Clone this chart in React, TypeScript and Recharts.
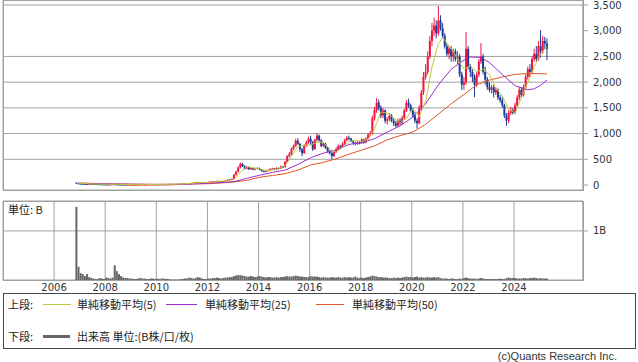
import React from "react";
import { ComposedChart, Bar, Line, XAxis, YAxis, CartesianGrid } from "recharts";

// ---------- categories ----------
const START_YEAR = 2006;
const START_MONTH = 10; // November (0-based)
const yearTicks = [2006, 2008, 2010, 2012, 2014, 2016, 2018, 2020, 2022, 2024];
const priceTicks = [0, 500, 1000, 1500, 2000, 2500, 3000, 3500];
const volumeTicks = [1];

// ---------- monthly OHLC (2006-11 .. 2025-04) ----------
const opens = [
  45, 32,
  28, 25, 22, 20, 18, 20, 22, 20, 18, 16, 15, 14,
  13, 12, 11, 12, 16, 14, 12, 11, 10, 9, 8, 8,
  8, 8, 8, 8, 9, 10, 10, 10, 10, 11, 11, 11,
  11, 12, 12, 13, 13, 14, 14, 15, 16, 17, 18, 20,
  22, 25, 28, 30, 35, 40, 45, 50, 55, 50, 48, 50,
  55, 60, 65, 70, 75, 80, 70, 65, 75, 90, 100, 110,
  120, 200, 260, 340, 410, 370, 320, 340, 310, 330, 300, 320,
  330, 300, 270, 260, 275, 290, 310, 320, 300, 330, 320, 360,
  350, 450, 560, 600, 700, 760, 860, 800, 690, 620, 760, 830,
  900, 830, 700, 880, 960, 870, 760, 800, 720, 650, 620, 560,
  640, 700, 760, 740, 800, 870, 920, 900, 850, 820, 800, 830,
  820, 880, 830, 900, 980, 1000, 1300, 1450, 1600, 1500, 1350, 1450,
  1250, 1280, 1350, 1250, 1200, 1150, 1250, 1200, 1300, 1450, 1600, 1550,
  1450, 1350, 1250, 1200, 1500, 1800, 2100, 2200, 2500, 2800, 3000, 3100,
  2950, 3200, 3050, 2900, 2700, 2550, 2650, 2500, 2600, 2450, 2500, 2150,
  1950, 2000, 2650, 2300, 2200, 2100, 1950, 2150, 2400, 2500, 2200, 2050,
  1900, 1850, 1900, 1800, 1850, 1700, 1650, 1550, 1350, 1250, 1400, 1450,
  1400, 1550, 1700, 1850, 1750, 1900, 2100, 2250, 2200, 2450, 2550, 2450,
  2700, 2600, 2800, 2750,
];
const highs = [
  50, 36,
  31, 27, 24, 22, 23, 25, 23, 21, 19, 17, 16, 15,
  14, 13, 13, 19, 17, 15, 13, 12, 11, 10, 9, 9,
  9, 9, 9, 10, 11, 11, 11, 11, 12, 12, 12, 12,
  13, 13, 14, 14, 15, 15, 16, 17, 18, 19, 21, 24,
  27, 30, 33, 38, 43, 48, 54, 60, 58, 53, 53, 58,
  64, 69, 75, 80, 86, 82, 73, 79, 95, 106, 116, 128,
  215, 280, 365, 440, 430, 385, 360, 350, 345, 340, 335, 345,
  340, 310, 285, 290, 305, 325, 335, 330, 345, 340, 375, 375,
  470, 580, 640, 730, 790, 900, 910, 820, 720, 790, 860, 940,
  960, 860, 900, 1010, 980, 890, 830, 820, 740, 680, 650, 680,
  730, 790, 780, 830, 900, 950, 960, 920, 870, 840, 860, 860,
  910, 900, 930, 1010, 1050, 1350, 1520, 1690, 1660, 1550, 1500, 1470,
  1320, 1400, 1380, 1300, 1250, 1290, 1300, 1350, 1480, 1650, 1680, 1580,
  1500, 1420, 1300, 1550, 1850, 2200, 2350, 2600, 2900, 3150, 3250, 3200,
  3480, 3300, 3150, 2950, 2750, 2700, 2700, 2650, 2650, 2600, 2550, 2200,
  2100, 2970, 2700, 2350, 2250, 2150, 2200, 2450, 2760, 2550, 2300, 2100,
  2000, 1950, 1950, 1900, 1880, 1750, 1700, 1580, 1400, 1450, 1520, 1500,
  1600, 1750, 1900, 1900, 1950, 2150, 2300, 2350, 2500, 2650, 2700, 2800,
  3010, 2900, 2880, 2850,
];
const lows = [
  28, 24,
  22, 20, 18, 16, 17, 19, 18, 16, 14, 13, 12, 11,
  11, 10, 10, 11, 13, 11, 10, 9, 8, 7, 7, 7,
  7, 7, 7, 8, 8, 9, 9, 9, 9, 10, 10, 10,
  10, 11, 11, 12, 12, 13, 13, 14, 15, 16, 17, 19,
  20, 23, 26, 28, 33, 38, 43, 48, 47, 45, 46, 48,
  52, 57, 62, 67, 71, 66, 61, 63, 72, 86, 96, 106,
  115, 185, 245, 320, 350, 300, 305, 290, 295, 285, 290, 305,
  285, 260, 245, 250, 265, 280, 300, 285, 290, 305, 310, 330,
  340, 430, 540, 580, 680, 740, 780, 650, 560, 600, 740, 800,
  780, 660, 680, 850, 840, 730, 740, 700, 630, 590, 500, 550,
  620, 680, 710, 720, 780, 850, 870, 830, 790, 770, 780, 790,
  800, 800, 810, 880, 950, 980, 1250, 1400, 1450, 1300, 1300, 1200,
  1180, 1240, 1220, 1150, 1120, 1130, 1160, 1170, 1280, 1420, 1500, 1420,
  1300, 1200, 1100, 1180, 1450, 1750, 2050, 2150, 2450, 2700, 2900, 2850,
  2900, 3000, 2850, 2650, 2500, 2450, 2400, 2400, 2400, 2350, 2100, 1850,
  1850, 1950, 2250, 2100, 2000, 1710, 1900, 2100, 2350, 2150, 1950, 1850,
  1800, 1780, 1700, 1750, 1650, 1600, 1500, 1300, 1150, 1200, 1360, 1370,
  1380, 1500, 1650, 1700, 1720, 1850, 2050, 2100, 2150, 2400, 2400, 2420,
  2480, 2550, 2650, 2430,
];
const closes = [
  32, 28,
  25, 22, 20, 18, 20, 22, 20, 18, 16, 15, 14, 13,
  12, 11, 12, 16, 14, 12, 11, 10, 9, 8, 8, 8,
  8, 8, 8, 9, 10, 10, 10, 10, 11, 11, 11, 11,
  12, 12, 13, 13, 14, 14, 15, 16, 17, 18, 20, 22,
  25, 28, 30, 35, 40, 45, 50, 55, 50, 48, 50, 55,
  60, 65, 70, 75, 80, 70, 65, 75, 90, 100, 110, 120,
  200, 260, 340, 410, 370, 320, 340, 310, 330, 300, 320, 330,
  300, 270, 260, 275, 290, 310, 320, 300, 330, 320, 360, 350,
  450, 560, 600, 700, 760, 860, 800, 690, 620, 760, 830, 900,
  830, 700, 880, 960, 870, 760, 800, 720, 650, 620, 560, 640,
  700, 760, 740, 800, 870, 920, 900, 850, 820, 800, 830, 820,
  880, 830, 900, 980, 1000, 1300, 1450, 1600, 1500, 1350, 1450, 1250,
  1280, 1350, 1250, 1200, 1150, 1250, 1200, 1300, 1450, 1600, 1550, 1450,
  1350, 1250, 1200, 1500, 1800, 2100, 2200, 2500, 2800, 3000, 3100, 2950,
  3200, 3050, 2900, 2700, 2550, 2650, 2500, 2600, 2450, 2500, 2150, 1950,
  2000, 2650, 2300, 2200, 2100, 1950, 2150, 2400, 2500, 2200, 2050, 1900,
  1850, 1900, 1800, 1850, 1700, 1650, 1550, 1350, 1250, 1400, 1450, 1400,
  1550, 1700, 1850, 1750, 1900, 2100, 2250, 2200, 2450, 2550, 2450, 2700,
  2600, 2800, 2750, 2650,
];
// volume in B
const volumes = [
  1.49, 0.27,
  0.14, 0.12, 0.08, 0.12, 0.06, 0.04, 0.03, 0.02, 0.02, 0.04, 0.03, 0.02,
  0.05, 0.04, 0.03, 0.05, 0.30, 0.18, 0.12, 0.08, 0.05, 0.04, 0.04, 0.03,
  0.03, 0.02, 0.02, 0.03, 0.04, 0.03, 0.03, 0.02, 0.02, 0.03, 0.03, 0.02,
  0.03, 0.02, 0.03, 0.03, 0.02, 0.02, 0.01, 0.01, 0.01, 0.01, 0.01, 0.02,
  0.02, 0.03, 0.03, 0.05, 0.04, 0.03, 0.04, 0.06, 0.05, 0.03, 0.02, 0.02,
  0.03, 0.03, 0.04, 0.04, 0.05, 0.04, 0.03, 0.04, 0.05, 0.05, 0.06, 0.06,
  0.08, 0.09, 0.10, 0.10, 0.09, 0.08, 0.07, 0.07, 0.08, 0.07, 0.06, 0.07,
  0.08, 0.07, 0.06, 0.05, 0.06, 0.06, 0.05, 0.05, 0.06, 0.05, 0.06, 0.06,
  0.07, 0.08, 0.07, 0.07, 0.08, 0.09, 0.08, 0.07, 0.07, 0.06, 0.06, 0.06,
  0.08, 0.07, 0.07, 0.07, 0.06, 0.05, 0.06, 0.05, 0.05, 0.05, 0.06, 0.05,
  0.05, 0.06, 0.05, 0.05, 0.06, 0.05, 0.06, 0.05, 0.05, 0.07, 0.05, 0.04,
  0.05, 0.04, 0.05, 0.06, 0.07, 0.09, 0.08, 0.07, 0.06, 0.06, 0.05, 0.05,
  0.05, 0.04, 0.04, 0.05, 0.04, 0.05, 0.04, 0.05, 0.06, 0.07, 0.06, 0.06,
  0.05, 0.06, 0.07, 0.05, 0.06, 0.05, 0.05, 0.06, 0.05, 0.05, 0.06, 0.05,
  0.06, 0.04, 0.03, 0.03, 0.03, 0.02, 0.03, 0.03, 0.02, 0.02, 0.03, 0.02,
  0.04, 0.05, 0.04, 0.03, 0.03, 0.03, 0.02, 0.03, 0.04, 0.03, 0.02, 0.02,
  0.02, 0.02, 0.02, 0.02, 0.02, 0.03, 0.02, 0.02, 0.04, 0.05, 0.04, 0.04,
  0.04, 0.03, 0.03, 0.03, 0.04, 0.04, 0.03, 0.04, 0.04, 0.05, 0.04, 0.03,
  0.04, 0.03, 0.03, 0.03,
];

// ---------- moving averages ----------
const ma5Points: [string, number][] = [
  ["2006-12", 35], ["2007-06", 21], ["2008-01", 15], ["2008-07", 14], ["2009-01", 8], ["2009-07", 9],
  ["2010-01", 11], ["2010-07", 14], ["2011-01", 20], ["2011-07", 40], ["2012-01", 52], ["2012-07", 74],
  ["2012-10", 80], ["2013-01", 110], ["2013-04", 250], ["2013-07", 370], ["2013-10", 330], ["2014-01", 315],
  ["2014-04", 280], ["2014-07", 295], ["2014-10", 315], ["2015-01", 380], ["2015-04", 560], ["2015-07", 750],
  ["2015-10", 770], ["2016-01", 780], ["2016-04", 830], ["2016-07", 830], ["2016-10", 700], ["2017-01", 640],
  ["2017-04", 730], ["2017-07", 850], ["2017-10", 870], ["2018-01", 840], ["2018-04", 890], ["2018-07", 1100],
  ["2018-10", 1420], ["2019-01", 1400], ["2019-04", 1300], ["2019-07", 1210], ["2019-10", 1300], ["2020-01", 1480],
  ["2020-04", 1330], ["2020-07", 1630], ["2020-10", 2300], ["2021-01", 2750], ["2021-03", 2870], ["2021-07", 2650],
  ["2021-10", 2450], ["2022-01", 2250], ["2022-04", 2320], ["2022-07", 2200], ["2022-10", 2250], ["2023-01", 2150],
  ["2023-04", 1880], ["2023-07", 1730], ["2023-10", 1470], ["2024-01", 1400], ["2024-04", 1700], ["2024-07", 2000],
  ["2024-10", 2300], ["2025-01", 2550], ["2025-04", 2690],
];
const ma25Points: [string, number][] = [
  ["2006-12", 35], ["2007-07", 28], ["2008-01", 22], ["2008-07", 18], ["2009-01", 14], ["2009-07", 11],
  ["2010-01", 10], ["2010-07", 12], ["2011-01", 16], ["2011-07", 24], ["2012-01", 35], ["2012-07", 48],
  ["2013-01", 65], ["2013-07", 130], ["2014-01", 190], ["2014-07", 245], ["2015-01", 290], ["2015-07", 400],
  ["2016-01", 530], ["2016-07", 620], ["2017-01", 680], ["2017-07", 790], ["2018-01", 820], ["2018-07", 900],
  ["2019-01", 1030], ["2019-07", 1150], ["2020-01", 1320], ["2020-07", 1580], ["2021-01", 1950], ["2021-07", 2250],
  ["2022-01", 2430], ["2022-04", 2490], ["2022-09", 2480], ["2023-01", 2380], ["2023-07", 2150], ["2024-01", 1930],
  ["2024-07", 1850], ["2024-10", 1870], ["2025-01", 1940], ["2025-04", 2040],
];
const ma50Points: [string, number][] = [
  ["2006-12", 38], ["2008-01", 25], ["2009-01", 18], ["2010-01", 14], ["2011-01", 15], ["2012-01", 25],
  ["2012-07", 40], ["2013-01", 60], ["2013-07", 90], ["2014-01", 150], ["2014-07", 185], ["2015-01", 220],
  ["2015-07", 290], ["2016-01", 390], ["2016-07", 440], ["2017-01", 510], ["2017-07", 600], ["2018-01", 680],
  ["2018-07", 760], ["2019-01", 880], ["2019-07", 960], ["2020-01", 1030], ["2020-07", 1180], ["2021-01", 1380],
  ["2021-07", 1580], ["2022-01", 1760], ["2022-07", 1950], ["2023-01", 2040], ["2023-07", 2100], ["2024-01", 2150],
  ["2024-07", 2170], ["2025-04", 2160],
];

// ---------- styling ----------
const RED = "#f2143f";
const BLUE = "#1b3c98";
const C_MA5 = "#bccb3a";
const C_MA25 = "#9b2fd2";
const C_MA50 = "#e0552a";
const GRID = "#a0a0a0";
const VOL = "#666666";
const AXIS_FONT = "'DejaVu Sans', Verdana, sans-serif";
const JP_FONT = "'Noto Sans CJK JP', 'Noto Sans', sans-serif";

// ---------- table ----------
const keyOf = (i: number) => {
  const m = START_MONTH + i;
  const y = START_YEAR + Math.floor(m / 12);
  return `${y}-${String((m % 12) + 1).padStart(2, "0")}`;
};
const ma5Map = new Map(ma5Points);
const ma25Map = new Map(ma25Points);
const ma50Map = new Map(ma50Points);

const table = opens.map((o, i) => {
  const key = keyOf(i);
  const [yy, mm] = key.split("-").map(Number);
  return {
    key,
    t: yy + (mm - 1 + 0.5) / 12,
    open: o,
    high: highs[i],
    low: lows[i],
    close: closes[i],
    range: [lows[i], highs[i]],
    vol: volumes[i],
    ma5: ma5Map.has(key) ? ma5Map.get(key) : null,
    ma25: ma25Map.has(key) ? ma25Map.get(key) : null,
    ma50: ma50Map.has(key) ? ma50Map.get(key) : null,
  };
});

const X_DOMAIN: [number, number] = [2004, 2026.7];

const Candle = (props: any) => {
  const { x, y, width, height, payload } = props;
  if (!payload || payload.open == null || x == null) return null;
  const { open, close, high, low } = payload;
  const top0 = Math.min(y, y + height);
  const h = Math.abs(height);
  const k = h / Math.max(1e-9, high - low);
  const yOf = (v: number) => top0 + (high - v) * k;
  const color = close >= open ? RED : BLUE;
  const cx = x + width / 2;
  const bTop = yOf(Math.max(open, close));
  const bBot = yOf(Math.min(open, close));
  return (
    <g>
      <line x1={cx} x2={cx} y1={top0} y2={top0 + Math.max(1, h)} stroke={color} strokeWidth={1} />
      <rect x={x} y={bTop} width={width} height={Math.max(1, bBot - bTop)} fill={color} />
    </g>
  );
};

const fmt = (v: number) => v.toLocaleString("en-US");

export default function App() {
  const abs = (l: number, t: number, extra: any = {}) => ({ position: "absolute" as const, left: l, top: t, ...extra });
  const txt = { fontFamily: JP_FONT, fontSize: 11, color: "#222", lineHeight: "13px", whiteSpace: "nowrap" as const };
  return (
    <div style={{ position: "absolute", left: 0, top: 0, width: 638, height: 362, background: "#fff", overflow: "hidden" }}>
      {/* price pane */}
      <div style={abs(0, 0)}>
        <ComposedChart width={638} height={191} data={table} margin={{ top: 0, right: 0, bottom: 1, left: 3 }}>
          <CartesianGrid stroke={GRID} strokeWidth={1} fill="none" />
          <XAxis dataKey="t" type="number" domain={X_DOMAIN} ticks={yearTicks} allowDataOverflow height={0} tick={false} axisLine={false} tickLine={false} />
          <YAxis
            orientation="right"
            type="number"
            domain={[-97, 3597]}
            ticks={priceTicks}
            allowDataOverflow
            width={55}
            tickSize={5}
            tickMargin={5}
            tickFormatter={fmt}
            axisLine={{ stroke: GRID }}
            tickLine={{ stroke: GRID }}
            tick={{ fontSize: 10, fill: "#333", fontFamily: AXIS_FONT, textAnchor: "start" }}
          />
          <Bar dataKey="range" barSize={2} shape={Candle} isAnimationActive={false} />
          <Line dataKey="ma50" stroke={C_MA50} strokeWidth={1} dot={false} connectNulls isAnimationActive={false} />
          <Line dataKey="ma25" stroke={C_MA25} strokeWidth={1} dot={false} connectNulls isAnimationActive={false} />
          <Line dataKey="ma5" stroke={C_MA5} strokeWidth={1} dot={false} connectNulls isAnimationActive={false} />
        </ComposedChart>
      </div>
      <div style={abs(3, 0, { width: 581, height: 191, boxSizing: "border-box", border: `1px solid ${GRID}`, pointerEvents: "none" })} />

      {/* volume pane */}
      <div style={abs(0, 195)}>
        <ComposedChart width={638} height={105} data={table} margin={{ top: 6, right: 0, bottom: 0, left: 3 }}>
          <CartesianGrid stroke={GRID} strokeWidth={1} fill="none" />
          <XAxis
            dataKey="t"
            type="number"
            domain={X_DOMAIN}
            ticks={yearTicks}
            allowDataOverflow
            height={20}
            tickSize={0}
            tickMargin={4}
            axisLine={false}
            tickLine={false}
            tick={{ fontSize: 10, fill: "#333", fontFamily: AXIS_FONT }}
          />
          <YAxis
            orientation="right"
            type="number"
            domain={[0, 1.61]}
            ticks={volumeTicks}
            allowDataOverflow
            width={55}
            tickSize={5}
            tickMargin={5}
            tickFormatter={(v: number) => `${v}B`}
            axisLine={{ stroke: GRID }}
            tickLine={{ stroke: GRID }}
            tick={{ fontSize: 10, fill: "#333", fontFamily: AXIS_FONT, textAnchor: "start" }}
          />
          <Bar dataKey="vol" barSize={2} fill={VOL} isAnimationActive={false} />
        </ComposedChart>
      </div>
      <div style={abs(3, 201, { width: 581, height: 80, boxSizing: "border-box", border: `1px solid ${GRID}`, pointerEvents: "none" })} />
      <div style={abs(8, 203, { ...txt, fontSize: 11 })}>単位: B</div>

      {/* legend */}
      <div style={abs(3, 293, { width: 633, height: 56, boxSizing: "border-box", border: "1px solid #444" })} />
      <div style={abs(8, 298, txt)}>上段:</div>
      <div style={abs(43, 304, { width: 28, height: 1, background: C_MA5 })} />
      <div style={abs(77, 298, txt)}>単純移動平均(5)</div>
      <div style={abs(166, 304, { width: 31, height: 1, background: C_MA25 })} />
      <div style={abs(205, 298, txt)}>単純移動平均(25)</div>
      <div style={abs(316, 304, { width: 28, height: 1, background: C_MA50 })} />
      <div style={abs(352, 298, txt)}>単純移動平均(50)</div>

      <div style={abs(8, 330, txt)}>下段:</div>
      <div style={abs(43, 335, { width: 27, height: 3, background: VOL })} />
      <div style={abs(77, 330, txt)}>出来高 単位:(B株/口/枚)</div>

      <div style={abs(400, 350, { ...txt, width: 217, textAlign: "right", fontFamily: "'Liberation Sans', Arial, sans-serif", color: "#333" })}>
        (c)Quants Research Inc.
      </div>
    </div>
  );
}
